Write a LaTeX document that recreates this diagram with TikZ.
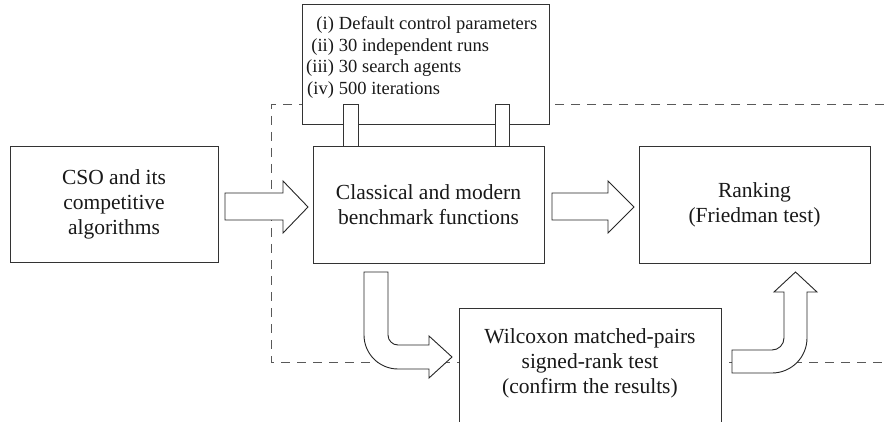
\documentclass[tikz,border=0pt]{standalone}
\usepackage{fontspec}
\setmainfont{Liberation Serif}
\begin{document}
\begin{tikzpicture}[x=1pt,y=1pt,
  line/.style={draw=black!80, line width=1pt},
  box/.style={line, fill=white, inner sep=0pt, align=center,
              font=\fontsize{21.5}{25}\selectfont, text=black!90},
  plain/.style={inner sep=0pt, align=center,
              font=\fontsize{21.5}{25}\selectfont, text=black!90},
  tab/.style={line, fill=white},
  blockarrow/.style={draw=black!85, line width=0.9pt, fill=white, line join=miter},
  dashline/.style={draw=black!65, line width=1pt, dash pattern=on 9pt off 7pt}]
\useasboundingbox (0,0) rectangle (884,421);
\clip (0,0) rectangle (884,421);

% dashed frame
\draw[dashline] (884,316) -- (271,316) -- (271,59) -- (884,59);

% boxes
\node[box, minimum width=208pt, minimum height=115pt] (cso) at (114,216.5)
  {CSO and its\\competitive\\algorithms};
\node[box, minimum width=231pt, minimum height=116pt] (cls) at (428.5,216)
  {Classical and modern\\benchmark functions};
\node[box, minimum width=231pt, minimum height=116pt] (rank) at (754.5,216)
  {Ranking\\(Friedman test)};
\node[box, minimum width=247pt, minimum height=120pt] (param) at (425.5,356) {};
\node[inner sep=0pt, anchor=base west, text=black!90,
      font=\fontsize{18.5}{21.5}\selectfont] (plist) at (306,391)
  {\begin{tabular}[t]{@{}r@{\hspace{5pt}}l@{}}
   (i) & Default control parameters\\
   (ii) & 30 independent runs\\
   (iii) & 30 search agents\\
   (iv) & 500 iterations
   \end{tabular}};
\node[box, minimum width=262pt, minimum height=200pt, anchor=north] (wilbox) at (590,113) {};
\node[plain] (wil) at (590,58)
  {Wilcoxon matched-pairs\\signed-rank test\\(confirm the results)};

% tabs linking parameter box and benchmark box
\draw[tab] (343,274) rectangle (358,316);
\draw[tab] (495,274) rectangle (509,316);

% block arrows
\draw[blockarrow] (225,228) -- (283,228) -- (283,240) -- (308,214) -- (283,188)
  -- (283,201) -- (225,201) -- cycle;
\draw[blockarrow] (552,228) -- (608,228) -- (608,240) -- (634,214) -- (608,188)
  -- (608,201) -- (552,201) -- cycle;
\draw[blockarrow] (364,149) -- (388,149) -- (388,86)
  arc[start angle=180, end angle=270, radius=10] -- (429,76) -- (429,85)
  -- (452,64) -- (429,43) -- (429,52) -- (398,52)
  arc[start angle=270, end angle=180, radius=34] -- cycle;
\draw[blockarrow] (732,71) -- (772,71)
  arc[start angle=-90, end angle=0, radius=12] -- (784,129) -- (774,129)
  -- (795.5,149) -- (817,129) -- (807,129) -- (807,83)
  arc[start angle=0, end angle=-90, radius=35] -- (732,48) -- cycle;
\end{tikzpicture}
\end{document}
